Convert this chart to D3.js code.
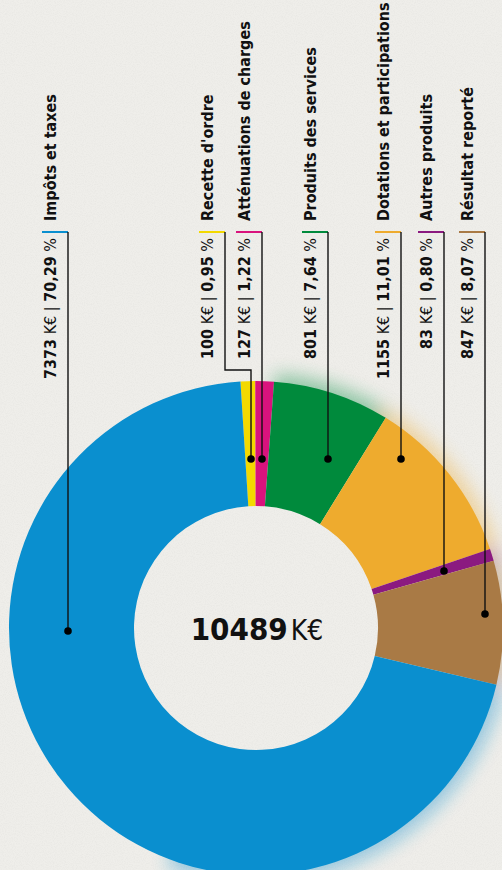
<!DOCTYPE html>
<html><head><meta charset="utf-8">
<script src="https://cdn.jsdelivr.net/npm/d3@7"></script>
<style>
html,body{margin:0;padding:0;background:#efeeea;}
svg{display:block;}
text{font-stretch:condensed;}
</style></head>
<body>
<script>
// ---- data ----
const sliceNames = ["Recette d'ordre","Atténuations de charges","Produits des services","Dotations et participations","Autres produits","Résultat reporté","Impôts et taxes"];
const sliceValues = [100,127,801,1155,83,847,7373];
const slicePct = ["0,95","1,22","7,64","11,01","0,80","8,07","70,29"];
const sliceColors = ["#f3d900","#d9137d","#008a3c","#eeab2e","#8b1a80","#a97a45","#0a8fcf"];
const totalLabel = "10489";
const unit = "K€";
// label order (left → right) as indices into slice arrays
const labelOrder = [6,0,1,2,3,4,5];

// ---- layout ----
const W = 502, H = 870;
const cx = 256, cy = 628, R = 247, r0 = 122;
const startAngle = -0.063;
const labelLeft = [42,199,236,302,375,418,459];
const dotY = [631,459,459,459,459,571,614];
const lineY = 232;
const font = "'DejaVu Sans Condensed','DejaVu Sans',sans-serif";

const svg = d3.select("body").append("svg").attr("width",W).attr("height",H);
const defs = svg.append("defs");
const blur = defs.append("filter").attr("id","glow").attr("x","-30%").attr("y","-30%").attr("width","160%").attr("height","160%");
blur.append("feGaussianBlur").attr("stdDeviation",9);
const noise = defs.append("filter").attr("id","noise");
noise.append("feTurbulence").attr("type","fractalNoise").attr("baseFrequency",0.9).attr("numOctaves",2).attr("seed",3);
noise.append("feColorMatrix").attr("type","matrix").attr("values","0 0 0 0 0.5  0 0 0 0 0.5  0 0 0 0 0.48  0 0 0 -1.2 0.75");

svg.append("rect").attr("width",W).attr("height",H).attr("fill","#efeeea");
svg.append("rect").attr("width",W).attr("height",H).attr("filter","url(#noise)").attr("opacity",0.2);

const pie = d3.pie().sort(null).value(d=>d).startAngle(startAngle).endAngle(startAngle+2*Math.PI);
const arcs = pie(sliceValues);
const arc = d3.arc().innerRadius(r0).outerRadius(R);
const glowArc = d3.arc().innerRadius(R-25).outerRadius(R+8);

const g = svg.append("g").attr("transform",`translate(${cx},${cy})`);
const glowG = g.append("g").attr("filter","url(#glow)").attr("opacity",0.4);
arcs.forEach((a,i)=>{
  if(i<2) return;
  let s=a.startAngle, e=a.endAngle;
  if(i===6) e = Math.min(e, 3.5);
  glowG.append("path").attr("d",glowArc({startAngle:s,endAngle:e})).attr("fill",sliceColors[i]);
});
g.selectAll("path.slice").data(arcs).join("path").attr("class","slice")
  .attr("d",arc).attr("fill",(d,i)=>sliceColors[i]);

// center label
const ct = svg.append("text").attr("x",cx+1).attr("y",cy+12).attr("text-anchor","middle")
  .style("font-family",font).attr("fill","#111");
ct.append("tspan").text(totalLabel).attr("font-weight","bold").attr("font-size",31);
ct.append("tspan").text(unit).attr("font-size",28).attr("dx",3);

// labels
labelOrder.forEach((si,k)=>{
  const x0 = labelLeft[k], xl = x0+26, bx = x0+14;
  const col = sliceColors[si];
  svg.append("line").attr("x1",x0).attr("x2",xl).attr("y1",lineY).attr("y2",lineY)
    .attr("stroke",col).attr("stroke-width",2);
  let pts;
  if(si===0){
    const ex = labelLeft[2]+15;
    pts = [[xl,lineY],[xl,370],[ex,370],[ex,dotY[k]]];
  } else {
    pts = [[xl,lineY],[xl,dotY[k]]];
  }
  svg.append("path").attr("d",d3.line()(pts)).attr("fill","none").attr("stroke","#111").attr("stroke-width",1.4);
  const last = pts[pts.length-1];
  svg.append("circle").attr("cx",last[0]).attr("cy",last[1]).attr("r",3.8).attr("fill","#000");
  svg.append("text").attr("transform",`translate(${bx},${lineY-11}) rotate(-90)`)
    .style("font-family",font).attr("font-weight","bold").attr("font-size",16).attr("fill","#111")
    .text(sliceNames[si]);
  const vt = svg.append("text").attr("transform",`translate(${bx},${lineY+6}) rotate(-90)`)
    .attr("text-anchor","end").style("font-family",font).attr("font-size",16).attr("fill","#111");
  vt.append("tspan").attr("font-weight","bold").text(String(sliceValues[si]));
  vt.append("tspan").text(" "+unit+" | ");
  vt.append("tspan").attr("font-weight","bold").text(slicePct[si]);
  vt.append("tspan").text(" %");
});
</script>
</body></html>
